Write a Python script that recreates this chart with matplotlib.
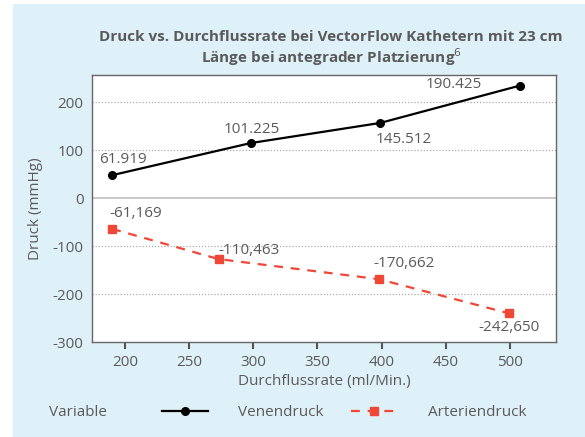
import matplotlib
matplotlib.use("Agg")
import matplotlib.pyplot as plt
from matplotlib.patches import Rectangle
from matplotlib.lines import Line2D

plt.rcParams['font.family'] = ['Open Sans', 'DejaVu Sans']
plt.rcParams['axes.unicode_minus'] = False

# Data
ven_x = [190, 298, 399, 508]
ven_y = [48, 115, 157, 235]
ven_labels = ["61.919", "101.225", "145.512", "190.425"]
art_x = [190, 273, 398, 499]
art_y = [-64, -127, -169, -240]
art_labels = ["-61,169", "-110,463", "-170,662", "-242,650"]
xticks = [200, 250, 300, 350, 400, 450, 500]
yticks = [-300, -200, -100, 0, 100, 200]

W, H = 585, 437
TXT = "#5a5a5a"
BG = "#dff1f8"
RED = "#ef4836"

fig = plt.figure(figsize=(W / 100, H / 100), dpi=100)
fig.patch.set_facecolor("white")
fig.patches.append(Rectangle((13 / W, 0), 1 - 13 / W, 1 - 4 / H,
                             transform=fig.transFigure, facecolor=BG,
                             edgecolor="none", zorder=-10))

ax = fig.add_axes([92 / W, (H - 342) / H, 464 / W, 267 / H])
ax.set_facecolor("white")
ax.set_xlim(174.3, 536)
ax.set_ylim(-300, 257)

for v in [-200, -100, 100, 200]:
    ax.axhline(v, color="#aaaaaa", lw=0.9, ls=(0, (1, 1.5)), zorder=1)
ax.axhline(0, color="#c8c8c8", lw=1.4, zorder=1)

ax.plot(ven_x, ven_y, color="black", lw=1.6, marker="o", ms=5.5, zorder=3)
ax.plot(art_x, art_y, color=RED, lw=1.6, ls=(0, (4, 3.5)), marker="s", ms=5.5, zorder=3)

fs = 11
ven_off = [(8, 11), (1, 10), (17, -12), (-48, 1)]
art_off = [(17, 11), (22, 6), (18, 11), (0, -10)]
for x, y, t, o in zip(ven_x, ven_y, ven_labels, ven_off):
    ax.annotate(t, (x, y), xytext=o, textcoords="offset points",
                ha="center", va="center", fontsize=fs, color=TXT, zorder=4)
for x, y, t, o in zip(art_x, art_y, art_labels, art_off):
    ax.annotate(t, (x, y), xytext=o, textcoords="offset points",
                ha="center", va="center", fontsize=fs, color=TXT, zorder=4)

ax.set_xticks(xticks)
ax.set_yticks(yticks)
ax.tick_params(axis="x", length=5, width=1.5, color="#555555", labelsize=fs,
               labelcolor=TXT, pad=4)
ax.tick_params(axis="y", length=0, labelsize=fs, labelcolor=TXT, pad=6)
for s in ax.spines.values():
    s.set_color("#666666")
    s.set_linewidth(1.0)

ax.set_xlabel("Durchflussrate (ml/Min.)", fontsize=fs, color=TXT, labelpad=3)
ax.set_ylabel("Druck (mmHg)", fontsize=fs, color=TXT, labelpad=7)

fig.text(331 / W, 1 - 37 / H, "Druck vs. Durchflussrate bei VectorFlow Kathetern mit 23 cm",
         ha="center", va="center", fontsize=fs, fontweight="bold", color=TXT)
fig.text(331 / W, 1 - 57 / H, "Länge bei antegrader Platzierung$^{6}$",
         ha="center", va="center", fontsize=fs, fontweight="bold", color=TXT)

fig.text(78 / W, 1 - 413 / H, "Variable", ha="center", va="center",
         fontsize=fs, color=TXT)
handles = [Line2D([], [], color="black", lw=1.6, marker="o", ms=5.5),
           Line2D([], [], color=RED, lw=1.6, ls=(0, (4, 3.5)), marker="s", ms=5.5)]
leg = fig.legend(handles, ["Venendruck", "Arteriendruck"], ncol=2,
                 loc="center left", bbox_to_anchor=(162 / W, 1 - 413 / H),
                 frameon=False, fontsize=fs, handlelength=3.0,
                 handletextpad=2.0, columnspacing=1.8, labelcolor=TXT,
                 borderpad=0, borderaxespad=0)

fig.savefig("out.png", dpi=100, facecolor=fig.get_facecolor())
